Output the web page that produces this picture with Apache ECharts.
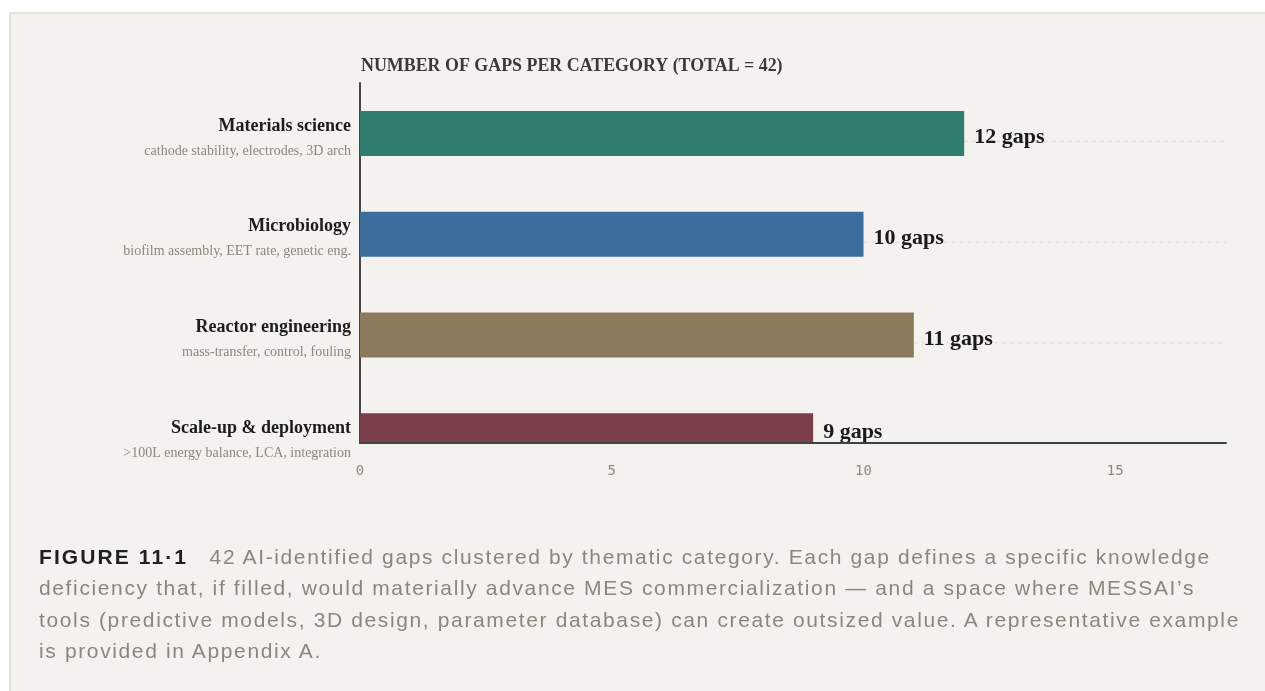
<!DOCTYPE html>
<html><head><meta charset="utf-8">
<script src="https://cdn.jsdelivr.net/npm/echarts@6/dist/echarts.min.js"></script>
<style>
html,body{margin:0;padding:0;background:#fff;width:1265px;height:691px;overflow:hidden;}
#panel{position:absolute;left:9px;top:12px;width:1275px;height:700px;background:#f4f2ee;border:2px solid #e4e2da;box-sizing:border-box;}
#chart{position:absolute;left:0;top:0;width:1265px;height:691px;}
#caption{position:absolute;left:39px;top:541px;font-family:"Liberation Sans",Arial,sans-serif;font-size:21px;line-height:31.3px;color:#8a877c;letter-spacing:1.63px;white-space:nowrap;}
#caption b{color:#1f1f1f;letter-spacing:2.1px;font-weight:bold;margin-right:14px;}
</style></head>
<body>
<div id="panel"></div>
<div id="chart"></div>
<div id="caption"><b>FIGURE 11·1</b> 42 AI-identified gaps clustered by thematic category. Each gap defines a specific knowledge<br>deficiency that, if filled, would materially advance MES commercialization — and a space where MESSAI’s<br>tools (predictive models, 3D design, parameter database) can create outsized value. A representative example<br>is provided in Appendix A.</div>
<script>
const categories = ['Materials science', 'Microbiology', 'Reactor engineering', 'Scale-up & deployment'];
const subtitles = ['cathode stability, electrodes, 3D arch', 'biofilm assembly, EET rate, genetic eng.', 'mass-transfer, control, fouling', '>100L energy balance, LCA, integration'];
const gapCounts = [12, 10, 11, 9];
const barColors = ['#2f7e70', '#3b6e9d', '#8a795b', '#7b3e4b'];
const xTickStep = 5;
const xMin = 0;
const xMax = 17.2;
const titleText = 'NUMBER OF GAPS PER CATEGORY (TOTAL = 42)';

// layout
const GRID_LEFT = 360, GRID_TOP = 83, GRID_W = 866, GRID_H = 403, X_OFFSET = -43;
const AXIS_Y = GRID_TOP + GRID_H + X_OFFSET;
const BG = '#f4f2ee';

const chart = echarts.init(document.getElementById('chart'));
chart.setOption({
  backgroundColor: 'transparent',
  animation: false,
  title: {
    text: titleText, left: 356, top: 52,
    textStyle: { fontFamily: 'Liberation Serif', fontWeight: 'bold', fontSize: 17.9, color: '#3a3a38' }
  },
  grid: { left: GRID_LEFT, top: GRID_TOP, width: GRID_W, height: GRID_H, containLabel: false },
  xAxis: {
    type: 'value', min: xMin, max: xMax, interval: xTickStep, offset: X_OFFSET, z: 10,
    splitLine: { show: false },
    axisTick: { show: false },
    axisLine: { show: true, lineStyle: { color: '#3d4148', width: 2 } },
    axisLabel: { showMaxLabel: false, margin: 21, fontFamily: 'DejaVu Sans Mono', fontSize: 14, color: '#8e8a7e' }
  },
  yAxis: {
    type: 'category', inverse: true, data: categories,
    axisTick: { show: false },
    axisLine: { show: true, lineStyle: { color: '#45474b', width: 2 } },
    axisLabel: {
      margin: 9, padding: [10, 0, 0, 0],
      formatter: (v, i) => '{n|' + v + '}\n{s|' + subtitles[i] + '}',
      rich: {
        n: { fontFamily: 'Liberation Serif', fontWeight: 'bold', fontSize: 18, color: '#1c1c1c', lineHeight: 25, align: 'right' },
        s: { fontFamily: 'Liberation Serif', fontSize: 14, color: '#8b887e', lineHeight: 25, align: 'right' }
      }
    }
  },
  graphic: [{
    type: 'rect', z: 8, silent: true,
    shape: { x: GRID_LEFT - 6, y: AXIS_Y + 1, width: GRID_W + 14, height: GRID_TOP + GRID_H - AXIS_Y + 10 },
    style: { fill: BG }
  }],
  series: [
    {
      type: 'custom', z: 1, silent: true,
      encode: { x: 0, y: 1 },
      data: gapCounts.map((v, i) => [v, i]),
      renderItem: (params, api) => {
        const a = api.coord([api.value(0), api.value(1)]);
        const b = api.coord([xMax, api.value(1)]);
        return { type: 'line', shape: { x1: a[0], y1: a[1] + 8, x2: b[0], y2: b[1] + 8 },
          style: { stroke: '#e0ddd4', lineWidth: 1, lineDash: [4, 4] } };
      }
    },
    {
      type: 'bar', z: 2, barWidth: 45,
      data: gapCounts.map((v, i) => ({ value: v, itemStyle: { color: barColors[i] } })),
      label: {
        show: true, position: 'right', distance: 10,
        formatter: p => p.value + ' gaps',
        fontFamily: 'Liberation Serif', fontWeight: 'bold', fontSize: 22, color: '#1a1a1a'
      },
      labelLayout: p => {
        const r = p.rect;
        if (r.y + r.height > AXIS_Y) {
          return { y: (r.y + AXIS_Y) / 2, verticalAlign: 'middle', dy: 4 };
        }
        return { dy: 4 };
      }
    }
  ]
});
</script>
</body></html>
